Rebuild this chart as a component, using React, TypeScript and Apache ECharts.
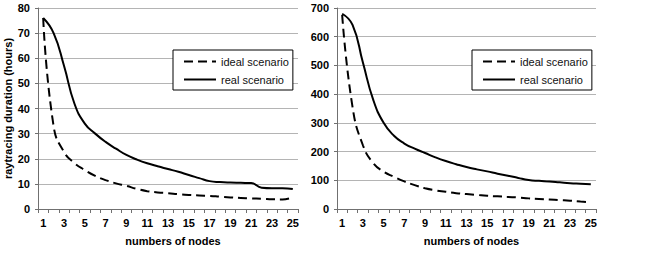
import React, { useEffect, useRef } from "react";
import * as echarts from "echarts";

const nodes = ["1","2","3","4","5","6","7","8","9","10","11","12","13","14","15","16","17","18","19","20","21","22","23","24","25"];

const leftIdeal = [76, 33, 22.7, 18.3, 15.5, 13.2, 11.5, 10.2, 9.2, 8, 7.1, 6.6, 6.3, 5.9, 5.6, 5.4, 5.2, 4.9, 4.6, 4.4, 4.2, 4.1, 3.9, 3.8, 4.6];
const leftReal = [76, 70, 57, 42, 34, 30, 26.7, 24, 21.5, 19.7, 18.2, 17, 15.9, 14.8, 13.5, 12.3, 11.1, 10.7, 10.5, 10.4, 10.3, 8.5, 8.3, 8.3, 8.0];
const rightIdeal = [676, 355, 222, 160, 130, 112, 96, 83, 72, 65, 60, 55, 52, 49, 46, 44, 42, 40, 37, 35, 33, 31, 29, 26, 23];
const rightReal = [680, 641, 510, 380, 300, 255, 228, 210, 195, 180, 167, 156, 146, 138, 131, 123, 116, 108, 101, 98, 96, 93, 90, 88, 86];

const FONT = "'Liberation Sans', Arial, sans-serif";

export default function App() {
  const ref = useRef<HTMLDivElement>(null);
  useEffect(() => {
    if (!ref.current) return;
    const chart = echarts.init(ref.current, null, { renderer: "svg" });
    const xAxisBase = (gridIndex: number, pad: number[]) => ({
      type: "category",
      gridIndex,
      data: nodes,
      boundaryGap: true,
      axisLine: { show: true, lineStyle: { color: "#707070", width: 1 } },
      axisTick: { show: true, interval: 0, alignWithLabel: false, length: 4, lineStyle: { color: "#707070" } },
      axisLabel: { interval: 1, margin: 8, color: "#000", fontWeight: "bold", fontSize: 11, fontFamily: FONT },
      splitLine: { show: false },
      name: "numbers of nodes",
      nameLocation: "middle",
      nameGap: 26,
      nameTextStyle: { color: "#000", fontWeight: "bold", fontSize: 11, fontFamily: FONT, padding: pad },
    });
    const yAxisBase = (gridIndex: number, max: number, interval: number, name: string) => ({
      type: "value",
      gridIndex,
      min: 0,
      max,
      interval,
      axisLine: { show: true, lineStyle: { color: "#707070", width: 1 } },
      axisTick: { show: true, length: 3, lineStyle: { color: "#707070" } },
      axisLabel: { margin: 8, color: "#000", fontWeight: "bold", fontSize: 11, fontFamily: FONT },
      splitLine: { show: true, lineStyle: { color: "#b4b4b4", width: 1 } },
      name,
      nameLocation: "middle",
      nameGap: 24,
      nameTextStyle: { color: "#000", fontWeight: "bold", fontSize: 11, fontFamily: FONT },
    });
    const lineSeries = (name: string, data: number[], idx: number, dashed: boolean) => ({
      type: "line",
      name,
      data,
      xAxisIndex: idx,
      yAxisIndex: idx,
      smooth: 0.5,
      symbol: "none",
      showSymbol: false,
      lineStyle: { color: "#000", width: 2, type: dashed ? [9, 5] : "solid" },
      itemStyle: { color: "#000" },
    });
    const legendBase = (left: number) => ({
      left,
      top: 50,
      orient: "vertical",
      data: ["ideal scenario", "real scenario"],
      backgroundColor: "#fff",
      borderColor: "#000",
      borderWidth: 1,
      padding: [6, 4, 5, 10],
      itemGap: 7,
      itemWidth: 32,
      itemHeight: 12,
      itemStyle: { opacity: 0 },
      textStyle: { color: "#111", fontSize: 11, fontFamily: FONT },
      selectedMode: false,
    });
    chart.setOption({
      animation: false,
      backgroundColor: "#fff",
      grid: [
        { left: 38, top: 8, width: 260, height: 201 },
        { left: 337, top: 8, width: 259, height: 201 },
      ],
      xAxis: [xAxisBase(0, [0, 0, 0, 10]), xAxisBase(1, [0, 0, 0, 10])],
      yAxis: [yAxisBase(0, 80, 10, "raytracing duration (hours)"), yAxisBase(1, 700, 100, "")],
      legend: [legendBase(173), legendBase(472)],
      series: [
        lineSeries("ideal scenario", leftIdeal, 0, true),
        lineSeries("real scenario", leftReal, 0, false),
        lineSeries("ideal scenario", rightIdeal, 1, true),
        lineSeries("real scenario", rightReal, 1, false),
      ],
    });
    return () => chart.dispose();
  }, []);
  return <div ref={ref} style={{ position: "absolute", left: 0, top: 0, width: 667, height: 274 }} />;
}
